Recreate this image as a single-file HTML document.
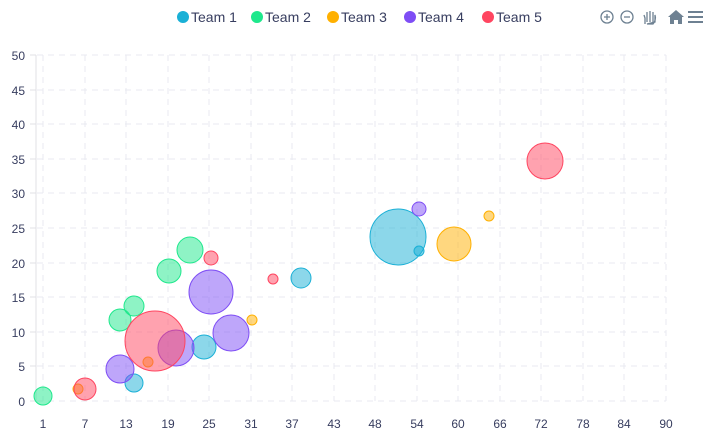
<!DOCTYPE html>
<html><head><style>body{margin:0;background:#fff;width:712px;height:437px;overflow:hidden;font-family:"Liberation Sans",sans-serif}</style></head><body>
<svg width="712" height="437" xmlns="http://www.w3.org/2000/svg" font-family="Liberation Sans, sans-serif">
<g stroke="#e8eaf0" stroke-dasharray="6,5" stroke-width="1">
<line x1="37" x2="666" y1="55" y2="55"/><line x1="37" x2="666" y1="90" y2="90"/><line x1="37" x2="666" y1="124" y2="124"/><line x1="37" x2="666" y1="159" y2="159"/><line x1="37" x2="666" y1="193" y2="193"/><line x1="37" x2="666" y1="228" y2="228"/><line x1="37" x2="666" y1="263" y2="263"/><line x1="37" x2="666" y1="297" y2="297"/><line x1="37" x2="666" y1="332" y2="332"/><line x1="37" x2="666" y1="366" y2="366"/><line x1="37" x2="666" y1="401" y2="401"/>
<line x1="43" x2="43" y1="55" y2="401"/><line x1="85" x2="85" y1="55" y2="401"/><line x1="126" x2="126" y1="55" y2="401"/><line x1="168" x2="168" y1="55" y2="401"/><line x1="209" x2="209" y1="55" y2="401"/><line x1="251" x2="251" y1="55" y2="401"/><line x1="292" x2="292" y1="55" y2="401"/><line x1="334" x2="334" y1="55" y2="401"/><line x1="375" x2="375" y1="55" y2="401"/><line x1="417" x2="417" y1="55" y2="401"/><line x1="458" x2="458" y1="55" y2="401"/><line x1="500" x2="500" y1="55" y2="401"/><line x1="541" x2="541" y1="55" y2="401"/><line x1="583" x2="583" y1="55" y2="401"/><line x1="624" x2="624" y1="55" y2="401"/><line x1="666" x2="666" y1="55" y2="401"/>
</g>
<line x1="36" x2="36" y1="55" y2="401" stroke="#e0e0e6"/>
<g stroke="#e0e0e6"><line x1="30" x2="36" y1="55" y2="55"/><line x1="30" x2="36" y1="90" y2="90"/><line x1="30" x2="36" y1="124" y2="124"/><line x1="30" x2="36" y1="159" y2="159"/><line x1="30" x2="36" y1="193" y2="193"/><line x1="30" x2="36" y1="228" y2="228"/><line x1="30" x2="36" y1="263" y2="263"/><line x1="30" x2="36" y1="297" y2="297"/><line x1="30" x2="36" y1="332" y2="332"/><line x1="30" x2="36" y1="366" y2="366"/><line x1="30" x2="36" y1="401" y2="401"/></g>
<g font-size="12" fill="#373d5f" text-anchor="end">
<text x="25" y="60">50</text><text x="25" y="95">45</text><text x="25" y="129">40</text><text x="25" y="164">35</text><text x="25" y="198">30</text><text x="25" y="233">25</text><text x="25" y="268">20</text><text x="25" y="302">15</text><text x="25" y="337">10</text><text x="25" y="371">5</text><text x="25" y="406">0</text>
</g>
<g font-size="12" fill="#373d5f" text-anchor="middle">
<text x="43" y="428">1</text><text x="85" y="428">7</text><text x="126" y="428">13</text><text x="168" y="428">19</text><text x="209" y="428">25</text><text x="251" y="428">31</text><text x="292" y="428">37</text><text x="334" y="428">43</text><text x="375" y="428">48</text><text x="417" y="428">54</text><text x="458" y="428">60</text><text x="500" y="428">66</text><text x="541" y="428">72</text><text x="583" y="428">78</text><text x="624" y="428">84</text><text x="666" y="428">90</text>
</g>
<g fill="#1ab0d6" fill-opacity="0.5" stroke="#1ab0d6">
<circle cx="398" cy="237" r="28"/><circle cx="419" cy="251" r="5"/><circle cx="301" cy="278" r="10"/><circle cx="204" cy="347" r="12"/><circle cx="134" cy="383" r="9"/></g>
<g fill="#1ee88c" fill-opacity="0.5" stroke="#1ee88c">
<circle cx="43" cy="396" r="9"/><circle cx="120" cy="320" r="11"/><circle cx="134" cy="306" r="10"/><circle cx="169" cy="271" r="12"/><circle cx="190" cy="250" r="13"/></g>
<g fill="#ffb000" fill-opacity="0.5" stroke="#ffb000">
<circle cx="454" cy="244" r="17"/><circle cx="489" cy="216" r="5"/><circle cx="252" cy="320" r="5"/><circle cx="148" cy="362" r="5"/><circle cx="78" cy="389" r="5"/></g>
<g fill="#7e4df5" fill-opacity="0.5" stroke="#7e4df5">
<circle cx="419" cy="209" r="7"/><circle cx="211" cy="292" r="22"/><circle cx="231" cy="333" r="18"/><circle cx="176" cy="348" r="18"/><circle cx="120" cy="369" r="14"/></g>
<g fill="#ff4560" fill-opacity="0.5" stroke="#ff4560">
<circle cx="545" cy="161" r="18"/><circle cx="211" cy="258" r="7"/><circle cx="273" cy="279" r="5"/><circle cx="155" cy="341" r="30"/><circle cx="85" cy="389" r="11"/></g>
<g font-size="14" fill="#373d5f">
<circle cx="183" cy="17" r="6" fill="#1ab0d6"/><text x="191" y="22">Team 1</text>
<circle cx="257" cy="17" r="6" fill="#1ee88c"/><text x="265" y="22">Team 2</text>
<circle cx="333" cy="17" r="6" fill="#ffb000"/><text x="341" y="22">Team 3</text>
<circle cx="410" cy="17" r="6" fill="#7e4df5"/><text x="418" y="22">Team 4</text>
<circle cx="488" cy="17" r="6" fill="#ff4560"/><text x="496" y="22">Team 5</text>
</g>
<g stroke="#6e8192" fill="none" stroke-width="1.3">
<circle cx="607" cy="17" r="6"/><path d="M604 17h6M607 14v6"/>
<circle cx="627" cy="17" r="6"/><path d="M624 17h6"/>
<path d="M645 24v-6l-1-3M647 22v-10M650 22v-11M653 22v-10M655 22v-7c1 3 0 7-2 9h-6z"/>
<path d="M688 12h15M688 17h15M688 22h15" stroke-width="2"/>
</g>
<path d="M668 17l8-7 8 7h-2v7h-4v-4h-4v4h-4v-7z" fill="#6e8192"/>
</svg>
</body></html>
